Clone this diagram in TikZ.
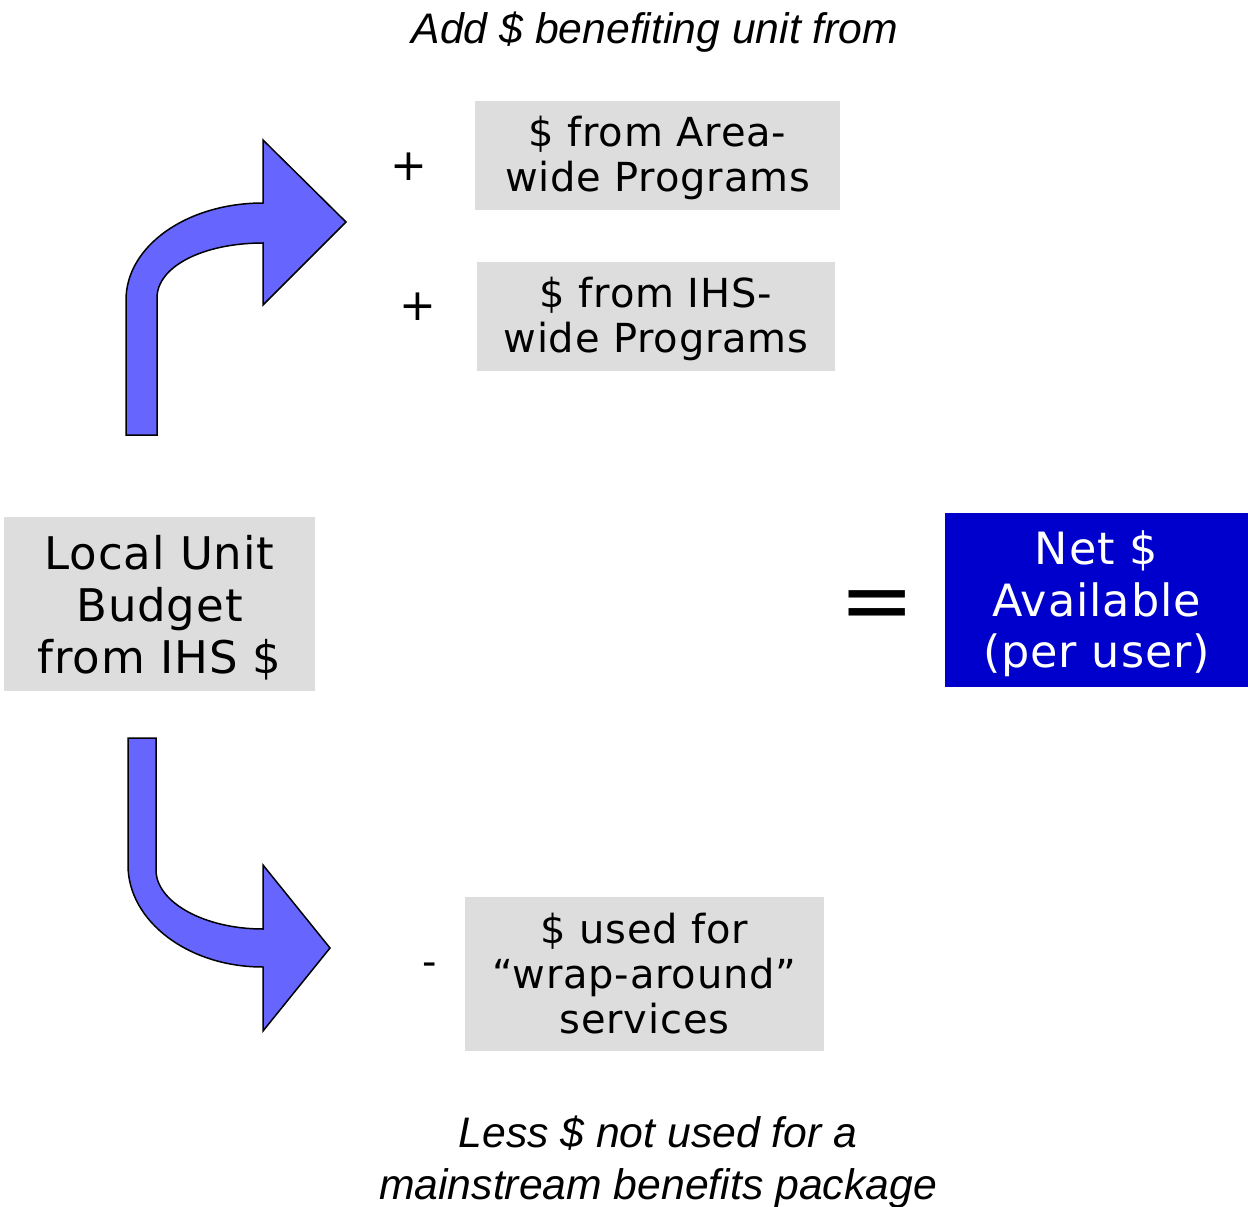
\documentclass[tikz,border=0pt]{standalone}
\usepackage{fontspec}
\setmainfont[LetterSpace=2]{DejaVu Sans}
\newfontfamily\capfont{Liberation Sans}
\definecolor{boxgray}{HTML}{DDDDDD}
\definecolor{arrowblue}{HTML}{6666FF}
\definecolor{netblue}{HTML}{0000CC}
\tikzset{
  graybox/.style={fill=boxgray, inner sep=0pt, align=center, text=black},
  bendarrow/.style={fill=arrowblue, draw=black, line width=1.5pt, line join=miter},
  caption/.style={inner sep=0pt, align=center, font=\capfont\itshape\fontsize{42.7}{52}\selectfont},
  opsign/.style={inner sep=0pt, font=\fontsize{44}{44}\selectfont}
}
\begin{document}
\begin{tikzpicture}[x=1pt,y=-1pt]
\useasboundingbox (0,0) rectangle (1248,1207);
% captions
\node[caption] (top) at (655,32) {Add \$ benefiting unit from};
\node[caption] (bottom) at (658,1162) {Less \$ not used for a\\mainstream benefits package};
% boxes
\node[graybox, minimum width=365pt, minimum height=109pt, font=\fontsize{40}{45}\selectfont] (area) at (657.5,155.5) {\rule{0pt}{0.9em}\$ from Area-\\wide Programs};
\node[graybox, minimum width=358pt, minimum height=109pt, font=\fontsize{40}{45}\selectfont] (ihs) at (656,316.5) {\rule{0pt}{0.86em}\$ from IHS-\\wide Programs};
\node[graybox, minimum width=311pt, minimum height=174pt, font=\fontsize{45}{52}\selectfont] (local) at (159.5,604) {\rule{0pt}{0.93em}Local Unit\\Budget\\from IHS \$};
\node[graybox, minimum width=359pt, minimum height=154pt, font=\fontsize{40}{45}\selectfont] (wrap) at (644.5,974) {\$ used for\\“wrap-around”\\services};
\node[fill=netblue, text=white, inner sep=0pt, align=center, minimum width=303pt, minimum height=174pt, font=\fontsize{44.5}{51.5}\selectfont] (net) at (1096.5,600) {\rule{0pt}{0.94em}Net \$\\Available\\(per user)};
% operator signs
\node[opsign] (plus1) at (409,167) {+};
\node[opsign] (plus2) at (418,307) {+};
\node[opsign, font=\fontsize{40}{40}\selectfont] (minus) at (430,969) {-};
\node[inner sep=0pt, font=\fontsize{90}{90}\selectfont] (equals) at (877,611) {=};
% bent arrows
\draw[bendarrow] (126,435) -- (126,300) .. controls (126,246) and (187,203) .. (263,203)
  -- (263,140) -- (346,222) -- (263,305) -- (263,243)
  .. controls (204,243) and (157,266) .. (157,298) -- (157,435) -- cycle;
\draw[bendarrow] (128,738) -- (156,738) -- (156,870) .. controls (156,902) and (204,929) .. (263,929)
  -- (263,865) -- (330,948) -- (263,1031) -- (263,967)
  .. controls (188,967) and (128,921) .. (128,865) -- cycle;
\end{tikzpicture}
\end{document}
